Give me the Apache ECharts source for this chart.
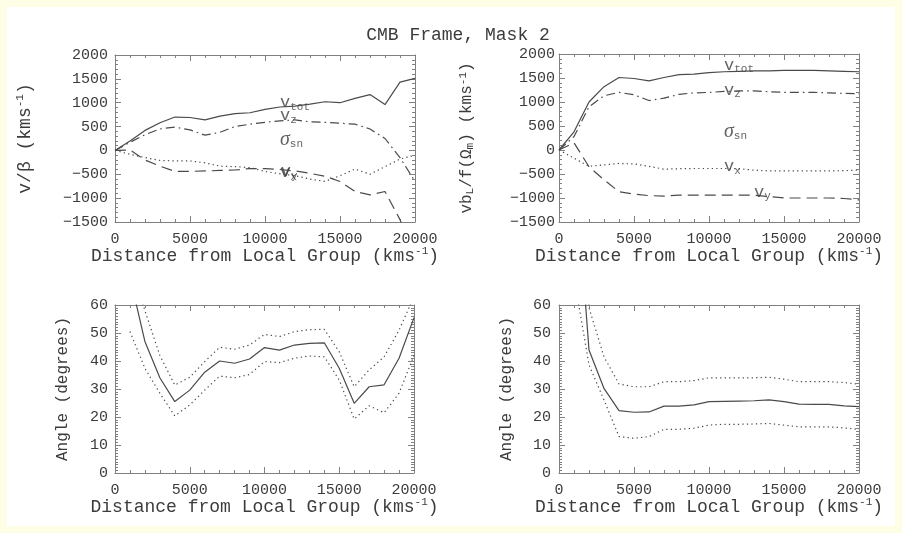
<!DOCTYPE html>
<html><head><meta charset="utf-8">
<script src="https://cdn.jsdelivr.net/npm/echarts@6/dist/echarts.min.js"></script>
<style>
html,body{margin:0;padding:0;background:#fefde6}
#c{width:902px;height:533px;background:#fff;box-shadow:inset 0 0 0 7px #fefde6}
</style>
</head><body><div id="c"></div>
<script>
// ---------- data ----------
const chartTitle = 'CMB Frame, Mask 2';
const xTicks = [0, 5000, 10000, 15000, 20000];
const xVel = [0,1000,2000,3000,4000,5000,6000,7000,8000,9000,10000,11000,12000,13000,14000,15000,16000,17000,18000,19000,20000];

// top-left: v/beta
const tlVtot = [0, 200, 420, 580, 700, 690, 640, 720, 770, 790, 860, 910, 930, 970, 1020, 1000, 1090, 1170, 960, 1430, 1510];
const tlVz   = [0, 170, 330, 450, 490, 430, 320, 380, 500, 550, 590, 620, 640, 600, 590, 570, 550, 450, 250, -150, -650];
const tlVx   = [0, -80, -150, -210, -220, -220, -260, -330, -340, -360, -440, -490, -530, -600, -650, -530, -390, -500, -340, -180, -100];
const tlVy   = [0, 10, -200, -330, -440, -440, -430, -420, -410, -380, -380, -400, -430, -480, -540, -650, -860, -930, -860, -1450, -2300];

// top-right: v b_L / f(Omega_m)
const trVtot = [0, 380, 1000, 1320, 1510, 1490, 1440, 1510, 1570, 1580, 1610, 1630, 1640, 1650, 1650, 1660, 1660, 1660, 1650, 1640, 1630];
const trVz   = [0, 280, 900, 1130, 1200, 1150, 1030, 1080, 1160, 1190, 1200, 1220, 1230, 1230, 1215, 1200, 1200, 1200, 1190, 1180, 1170];
const trVx   = [0, -170, -340, -310, -280, -290, -340, -400, -390, -385, -385, -385, -390, -420, -435, -435, -435, -435, -435, -430, -420];
const trVy   = [0, 150, -350, -620, -870, -920, -950, -960, -940, -940, -940, -940, -940, -940, -970, -1000, -1000, -1000, -1000, -1010, -1040];

// bottom panels: angle (degrees)
const xAng = [1000,2000,3000,4000,5000,6000,7000,8000,9000,10000,11000,12000,13000,14000,15000,16000,17000,18000,19000,20000];
const blMain  = [70, 47, 34, 25.5, 29.6, 36, 40, 39.2, 40.7, 44.8, 43.9, 45.7, 46.3, 46.5, 37.4, 24.9, 30.8, 31.5, 41, 55.5];
const blUpper = [76, 58, 42, 31.4, 34.2, 39.8, 44.9, 44.2, 45.7, 49.5, 48.7, 50.5, 51.2, 51.3, 43.3, 30.8, 36.8, 41.5, 51, 63];
const blLower = [50.5, 37.4, 28.5, 20.4, 24.3, 29.6, 34.6, 34, 35.2, 39.8, 39.4, 41, 41.8, 41.5, 33.2, 19.3, 24, 21.5, 28.5, 42];
const brMain  = [115, 43.9, 30.2, 22.3, 21.7, 21.8, 23.9, 23.9, 24.3, 25.5, 25.6, 25.7, 25.8, 26.1, 25.5, 24.6, 24.5, 24.5, 24, 23.7];
const brUpper = [160, 59, 41.5, 31.8, 30.8, 30.8, 32.6, 32.6, 33, 34, 34, 34, 34, 34.2, 33.5, 32.6, 32.6, 32.6, 32.3, 31.7];
const brLower = [70, 38.6, 26.1, 13, 12.4, 13, 15.6, 15.6, 16, 17.1, 17.4, 17.4, 17.5, 17.7, 17.1, 16.5, 16.5, 16.5, 16.1, 15.6];

// curve annotations (anchored in data units)
const tlNoteText = ['{v|v}{s|tot}', '{v|v}{s|z}', '{g|σ}{s|sn}', '{v|v}{s|x}', '{v|v}{s|y}'];
const tlNoteX = [11000, 11000, 11000, 11000, 11050];
const tlNoteY = [1000, 730, 220, -460, -450];
const trNoteText = ['{v|v}{s|tot}', '{v|v}{s|z}', '{g|σ}{s|sn}', '{v|v}{s|x}', '{v|v}{s|y}'];
const trNoteX = [11000, 11000, 11000, 11000, 13000];
const trNoteY = [1770, 1250, 380, -340, -875];

const xName = 'Distance from Local Group (kms{sup|-1})';
const yNames = ['v/β (kms{sup|-1})', 'vb{sub|L}/f(Ω{sub|m}) (kms{sup|-1})', 'Angle (degrees)', 'Angle (degrees)'];

// ---------- styling ----------
const MONO = 'Liberation Mono';
const TXT = '#3c3c3c';
const AX = '#808080';
const LINE = '#4a4a4a';
const SOLID = 'solid', DOT = [1.3, 3.2], DASH = [11, 6], DASHDOT = [9, 4, 1.6, 4];

const grids = [
  {left:115, top:55, width:300, height:167},
  {left:559, top:54, width:300, height:168},
  {left:115, top:305, width:299, height:168},
  {left:559, top:305, width:300, height:168}
];
const yRanges = [
  {min:-1500, max:2000, interval:500, minor:5},
  {min:-1500, max:2000, interval:500, minor:5},
  {min:0, max:60, interval:10, minor:10},
  {min:0, max:60, interval:10, minor:10}
];
const yLabelMargin = [7, 4, 7, 8];
const yNameGap = [80, 83, 43, 43];
const yNameSize = [18, 16, 16, 16];

const supRich = {
  sup:{fontFamily:MONO, fontSize:11, lineHeight:10, verticalAlign:'top', color:TXT},
  sub:{fontFamily:MONO, fontSize:11, lineHeight:10, verticalAlign:'bottom', color:TXT}
};
const noteRich = {
  v:{fontFamily:MONO, fontSize:17, lineHeight:20, color:TXT},
  s:{fontFamily:MONO, fontSize:11, lineHeight:12, verticalAlign:'bottom', color:TXT},
  g:{fontFamily:'Liberation Serif', fontStyle:'italic', fontSize:20, lineHeight:20, color:TXT}
};
const numFmt = (v) => v < 0 ? '\u2212' + String(-v) : String(v);

const xAxes = [], yAxes = [];
grids.forEach((g, i) => {
  const common = {gridIndex:i, type:'value', splitLine:{show:false},
    axisLine:{show:true, onZero:false, lineStyle:{color:AX, width:1}},
    axisTick:{show:true, inside:false, length:-6, lineStyle:{color:AX}},
    minorTick:{show:true, length:-3, lineStyle:{color:AX}}};
  xAxes.push(Object.assign({}, common, {position:'bottom', min:0, max:20000, interval:5000,
    minorTick:Object.assign({}, common.minorTick, {splitNumber:5}),
    axisLabel:{show:true, margin:10, fontFamily:MONO, fontSize:15, color:TXT,
      formatter:(v)=> xTicks.indexOf(v) >= 0 ? String(v) : ''},
    name:xName, nameLocation:'middle', nameGap:24, nameMoveOverlap:false,
    nameTextStyle:{fontFamily:MONO, fontSize:18, lineHeight:20, color:TXT, rich:supRich}}));
  xAxes.push(Object.assign({}, common, {position:'top', min:0, max:20000, interval:5000,
    minorTick:Object.assign({}, common.minorTick, {splitNumber:5}),
    axisLabel:{show:false}}));
  const r = yRanges[i];
  yAxes.push(Object.assign({}, common, {position:'left', min:r.min, max:r.max, interval:r.interval,
    minorTick:Object.assign({}, common.minorTick, {splitNumber:r.minor}),
    axisLabel:{show:true, margin:yLabelMargin[i], fontFamily:MONO, fontSize:15, color:TXT, formatter:numFmt},
    name:yNames[i], nameLocation:'middle', nameGap:yNameGap[i], nameMoveOverlap:false,
    nameTextStyle:{fontFamily:MONO, fontSize:yNameSize[i], lineHeight:yNameSize[i] + 2, color:TXT, rich:supRich}}));
  yAxes.push(Object.assign({}, common, {position:'right', min:r.min, max:r.max, interval:r.interval,
    minorTick:Object.assign({}, common.minorTick, {splitNumber:r.minor}),
    axisLabel:{show:false}}));
});

function pts(xs, ys){ return xs.map((x, k) => [x, ys[k]]); }
function line(g, xs, ys, type){
  return {type:'line', xAxisIndex:g*2, yAxisIndex:g*2, data:pts(xs, ys), symbol:'none',
    silent:true, clip:true, lineStyle:{color:LINE, width:1.2, type:type}};
}
function notes(g, texts, xs, ys){
  return {type:'scatter', xAxisIndex:g*2, yAxisIndex:g*2, symbolSize:0, silent:true,
    data:texts.map((t, k) => ({value:[xs[k], ys[k]], label:{formatter:t}})),
    label:{show:true, position:'right', distance:0, rich:noteRich}};
}

const series = [
  line(0, xVel, tlVtot, SOLID), line(0, xVel, tlVz, DASHDOT), line(0, xVel, tlVx, DOT), line(0, xVel, tlVy, DASH),
  line(1, xVel, trVtot, SOLID), line(1, xVel, trVz, DASHDOT), line(1, xVel, trVx, DOT), line(1, xVel, trVy, DASH),
  line(2, xAng, blMain, SOLID), line(2, xAng, blUpper, DOT), line(2, xAng, blLower, DOT),
  line(3, xAng, brMain, SOLID), line(3, xAng, brUpper, DOT), line(3, xAng, brLower, DOT),
  notes(0, tlNoteText, tlNoteX, tlNoteY), notes(1, trNoteText, trNoteX, trNoteY)
];

const chart = echarts.init(document.getElementById('c'));
chart.setOption({
  animation:false,
  backgroundColor:'transparent',
  title:{text:chartTitle, left:458, top:26, textAlign:'center', padding:0,
    textStyle:{fontFamily:MONO, fontSize:18, fontWeight:'normal', color:TXT}},
  grid:grids.map(g => Object.assign({containLabel:false, outerBoundsMode:'none'}, g)),
  xAxis:xAxes, yAxis:yAxes, series:series
});
</script></body></html>
